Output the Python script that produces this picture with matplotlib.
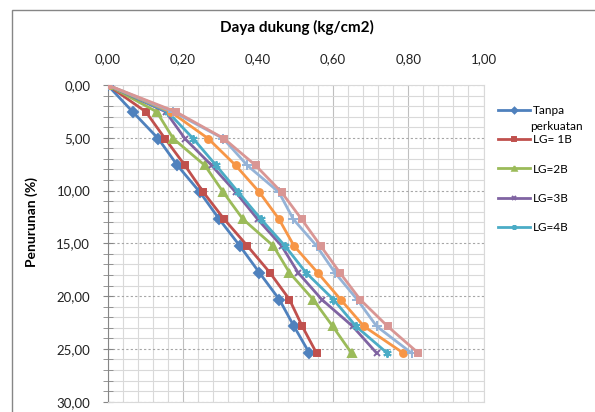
import matplotlib
matplotlib.use("Agg")
from matplotlib import pyplot as plt
from matplotlib.ticker import MultipleLocator, FuncFormatter
from matplotlib.patches import Rectangle

plt.rcParams['font.family'] = ['Lato', 'DejaVu Sans']

# Penurunan (%) - same steps for every series
settlement = [0, 2.54, 5.08, 7.62, 10.16, 12.70, 15.24, 17.78, 20.32, 22.86, 25.40]

# Daya dukung (kg/cm2) per series
tanpa = [0, 0.067, 0.135, 0.186, 0.246, 0.297, 0.352, 0.404, 0.457, 0.496, 0.537]
lg1 = [0, 0.102, 0.153, 0.206, 0.255, 0.310, 0.372, 0.432, 0.484, 0.518, 0.556]
lg2 = [0, 0.131, 0.175, 0.259, 0.308, 0.360, 0.441, 0.484, 0.547, 0.599, 0.649]
lg3 = [0, 0.155, 0.206, 0.277, 0.341, 0.399, 0.463, 0.507, 0.570, 0.652, 0.716]
lg4 = [0, 0.160, 0.228, 0.289, 0.348, 0.408, 0.472, 0.528, 0.601, 0.661, 0.744]
lg5 = [0, 0.168, 0.268, 0.341, 0.404, 0.456, 0.496, 0.559, 0.620, 0.682, 0.787]
lg6 = [0, 0.175, 0.308, 0.372, 0.456, 0.494, 0.556, 0.605, 0.664, 0.716, 0.809]
lg7 = [0, 0.182, 0.310, 0.394, 0.463, 0.516, 0.567, 0.618, 0.672, 0.745, 0.827]

series = [tanpa, lg1, lg2, lg3, lg4, lg5, lg6, lg7]
names = ["Tanpa perkuatan", "LG= 1B", "LG=2B", "LG=3B", "LG=4B", "LG=5B", "LG=6B", "LG=7B"]
colors = ['#4F81BD', '#C0504D', '#9BBB59', '#8064A2', '#4BACC6', '#F79646', '#95B3D7', '#D99694']
markers = ['D', 's', '^', 'x', (6, 2, 0), 'o', '+', 's']
msizes = [5, 5, 5.5, 5, 6, 5, 6.5, 5]

fig = plt.figure(figsize=(5.95, 4.12), dpi=100)
W, H = 595, 412

# chart border (cropped screenshot of the chart frame)
fig.patches.append(Rectangle((12 / W, -0.1), 1.2, 1 - 10 / H + 0.1, transform=fig.transFigure,
                             fill=False, edgecolor='#868686', lw=1.0))

ax = fig.add_axes([107.5 / W, 1 - 401.7 / H, 376 / W, (401.7 - 85) / H])

lines = []
for xs, name, c, m, ms in zip(series, names, colors, markers, msizes):
    ln, = ax.plot(xs, settlement, color=c, lw=2.0, marker=m, markersize=ms,
                  markeredgewidth=1.4, label=name, zorder=3)
    lines.append(ln)

ax.set_xlim(0, 1.0)
ax.set_ylim(30, 0)
ax.xaxis.tick_top()
ax.xaxis.set_major_locator(MultipleLocator(0.2))
ax.xaxis.set_minor_locator(MultipleLocator(0.04))
ax.yaxis.set_major_locator(MultipleLocator(5))
ax.yaxis.set_minor_locator(MultipleLocator(1))
fmt = FuncFormatter(lambda v, p: f"{v:.2f}".replace('.', ','))
ax.xaxis.set_major_formatter(fmt)
ax.yaxis.set_major_formatter(fmt)

ax.grid(which='minor', color='#D9D9D9', lw=0.8)
ax.grid(which='major', axis='x', color='#BFBFBF', lw=0.8)
ax.grid(which='major', axis='y', color='#A6A6A6', lw=0.8, linestyle=(0, (2, 2)))
ax.set_axisbelow(True)

for s in ['top', 'right', 'bottom']:
    ax.spines[s].set_color('#D9D9D9')
    ax.spines[s].set_linewidth(0.8)
ax.spines['left'].set_color('#868686')
ax.spines['left'].set_linewidth(0.8)

ax.tick_params(axis='x', which='both', length=0, pad=14, labelsize=9.5, labelcolor='#222222')
ax.tick_params(axis='y', which='both', direction='inout', length=7, color='#868686',
               pad=9, labelsize=9.5, labelcolor='#222222')

fig.text(297 / W, 1 - 27 / H, "Daya dukung (kg/cm2)", ha='center', va='center',
         fontsize=11, fontweight='bold')
fig.text(32 / W, 1 - 222 / H, "Penurunan (%)", ha='center', va='center', rotation=90,
         fontsize=10, fontweight='bold')

# legend shows only the first five entries, as in the cropped chart
leg_labels = ["Tanpa", "LG= 1B", "LG=2B", "LG=3B", "LG=4B"]
leg = fig.legend(lines[:5], leg_labels, loc='upper left',
                 bbox_to_anchor=(498 / W, 1 - 105 / H), bbox_transform=fig.transFigure,
                 frameon=False, fontsize=8.5, borderpad=0, borderaxespad=0,
                 handlelength=2.7, handletextpad=0.25, labelspacing=1.55,
                 markerscale=0.6)
fig.text(530 / W, 1 - 126.5 / H, "perkuatan", ha='left', va='center', fontsize=8.5)

fig.savefig("out.png", dpi=100)
